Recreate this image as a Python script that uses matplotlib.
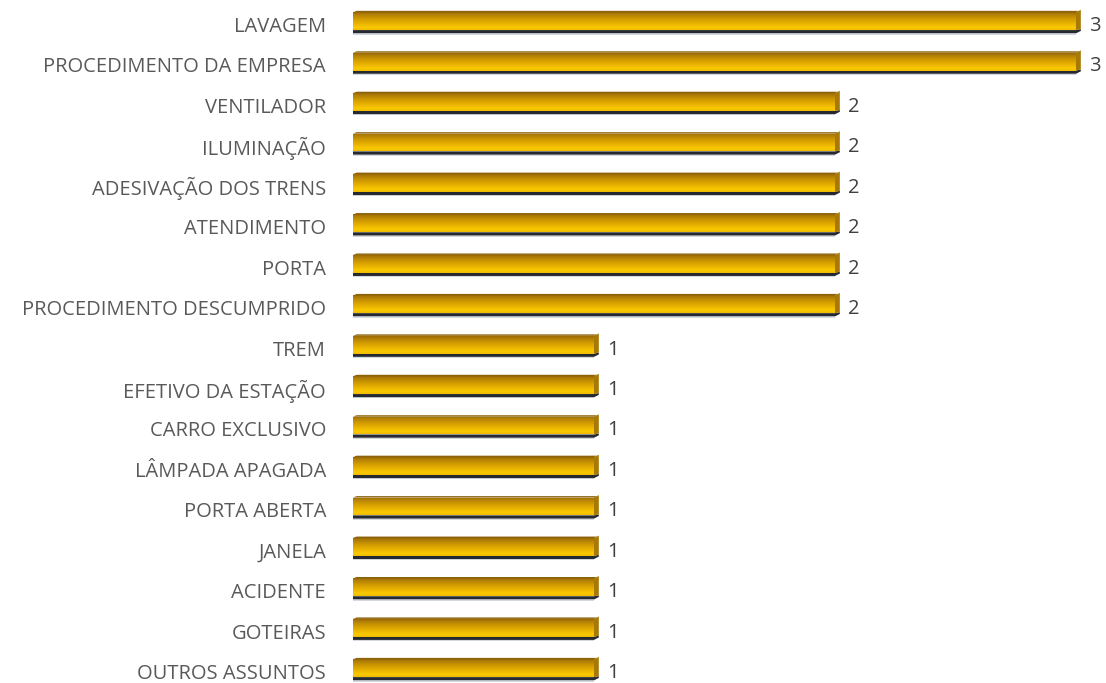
import numpy as np
import matplotlib.pyplot as plt
from matplotlib.colors import LinearSegmentedColormap
from matplotlib.patches import Polygon
from matplotlib.transforms import offset_copy

categories = ['LAVAGEM', 'PROCEDIMENTO DA EMPRESA', 'VENTILADOR', 'ILUMINAÇÃO',
              'ADESIVAÇÃO DOS TRENS', 'ATENDIMENTO', 'PORTA', 'PROCEDIMENTO DESCUMPRIDO',
              'TREM', 'EFETIVO DA ESTAÇÃO', 'CARRO EXCLUSIVO', 'LÂMPADA APAGADA',
              'PORTA ABERTA', 'JANELA', 'ACIDENTE', 'GOTEIRAS', 'OUTROS ASSUNTOS']
values = [3, 3, 2, 2, 2, 2, 2, 2, 1, 1, 1, 1, 1, 1, 1, 1, 1]

plt.rcParams['font.family'] = ['Open Sans', 'DejaVu Sans']

fig = plt.figure(figsize=(11.06, 6.83), dpi=100)
ax = fig.add_axes([353 / 1106, 0, 1 - 353 / 1106, 1])
ax.set_xlim(0, (1106 - 353) / 241)
ax.set_ylim((683 - 22) / 40.44, -22 / 40.44)
ax.axis('off')

# vertical gradient for the bar front face: dark amber at top, bright yellow at bottom
gold = LinearSegmentedColormap.from_list('gold', [
    (0.0, '#9a6a08'), (0.15, '#b58206'), (0.45, '#d9a200'),
    (0.85, '#fbc800'), (1.0, '#f0bc00')])
grad = np.linspace(0, 1, 64).reshape(-1, 1)

h = 0.44
dx = 0.02    # depth of the right side face
dy = 0.06

for i, (cat, v) in enumerate(zip(categories, values)):
    top = i - h / 2 - 0.02
    bot = i + h / 2 - 0.02
    bar = ax.barh(i - 0.02, v, height=h, color='none', edgecolor='none')[0]
    img = ax.imshow(grad, cmap=gold, aspect='auto', extent=(0, v, bot, top),
                    interpolation='bilinear', zorder=2)
    img.set_clip_path(bar)
    # bottom shadow edge
    ax.add_patch(Polygon([(0, bot), (v, bot), (v + dx, bot - dy * 0.4),
                          (v + dx, bot + 0.02), (v, bot + 0.08), (0, bot + 0.08)],
                         closed=True, facecolor='#262a30', edgecolor='none', zorder=1))
    ax.add_patch(Polygon([(0, bot + 0.08), (v, bot + 0.08), (v, bot + 0.11), (0, bot + 0.11)],
                         closed=True, facecolor='#b8c0cc', edgecolor='none', alpha=0.6, zorder=1))
    # right side face
    ax.add_patch(Polygon([(v, top), (v + dx, top - dy), (v + dx, bot - dy * 0.4), (v, bot)],
                         closed=True, facecolor='#a87a05', edgecolor='none', zorder=3))
    # top bevel
    ax.add_patch(Polygon([(0.015, top - dy * 0.6), (v + dx * 0.6, top - dy * 0.6), (v, top), (0, top)],
                         closed=True, facecolor='#8c6208', edgecolor='none', zorder=3))
    ax.text(v + dx, i, f'{v}', va='center', ha='left', fontsize=14.5, color='#404040',
            transform=offset_copy(ax.transData, fig=fig, x=8, y=-4, units='dots'))
    ax.text(0, i, cat, va='center', ha='right', fontsize=14.5, color='#595959',
            transform=offset_copy(ax.transData, fig=fig, x=-27, y=-5, units='dots'))

fig.savefig('out.png', dpi=100)
